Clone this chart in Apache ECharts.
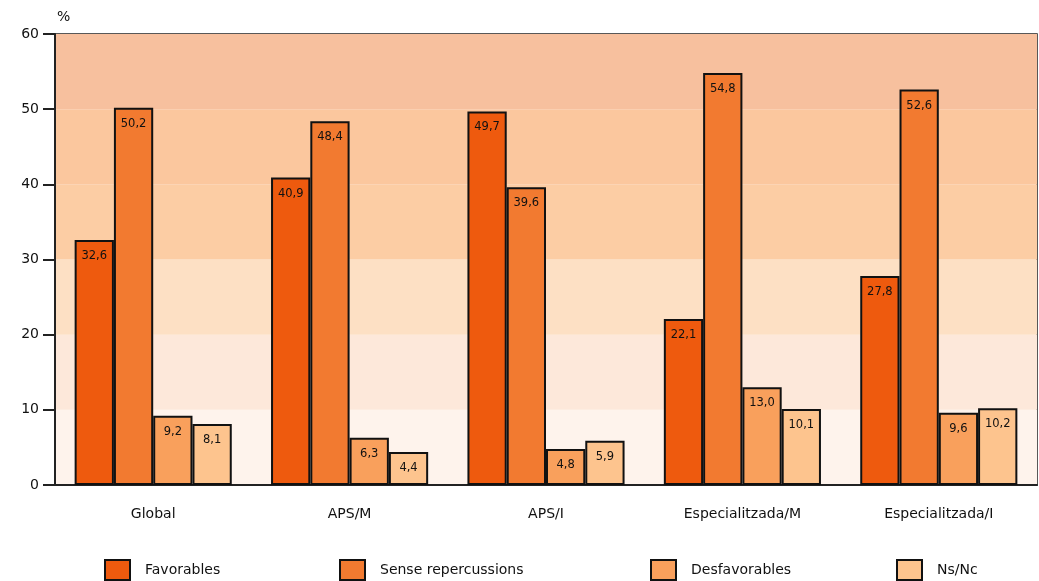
<!DOCTYPE html>
<html>
<head>
<meta charset="utf-8">
<script src="https://cdn.jsdelivr.net/npm/echarts@6/dist/echarts.min.js"></script>
<style>
  html, body { margin: 0; padding: 0; background: #ffffff; }
  #chart { width: 1039px; height: 581px; }
</style>
</head>
<body>
<div id="chart"></div>
<script>
// Àmbits de l'enquesta
const categories = ['Global', 'APS/M', 'APS/I', 'Especialitzada/M', 'Especialitzada/I'];

// Percentatges per tipus de resposta
const favorables = [32.6, 40.9, 49.7, 22.1, 27.8];
const senseRepercussions = [50.2, 48.4, 39.6, 54.8, 52.6];
const desfavorables = [9.2, 6.3, 4.8, 13.0, 9.6];
const nsNc = [8.1, 4.4, 5.9, 10.1, 10.2];

const seriesNames = ['Favorables', 'Sense repercussions', 'Desfavorables', 'Ns/Nc'];
const yTicks = [0, 10, 20, 30, 40, 50, 60];

const FONT = '"DejaVu Sans", "Liberation Sans", sans-serif';
const colors = ['#ee5a0e', '#f27a30', '#f9a05c', '#fdc48e'];
// Franges de fons, de baix a dalt
const bandColors = ['#fef3ec', '#fde8da', '#fde0c4', '#fccda4', '#fbc79e', '#f7c09e'];

const fmt = v => v.toFixed(1).replace('.', ',');

function barSeries(name, data, color) {
  return {
    name: name,
    type: 'bar',
    data: data,
    barGap: '0%',
    barCategoryGap: '20%',
    itemStyle: { color: color, borderColor: '#111', borderWidth: 2 },
    label: {
      show: true,
      position: 'insideTop',
      distance: 10,
      color: '#111',
      fontFamily: FONT,
      fontSize: 11.5,
      formatter: p => fmt(p.value)
    }
  };
}

const legendPos = [104, 339, 650, 896];
const legends = seriesNames.map((n, i) => ({
  data: [{ name: n, icon: 'rect' }],
  left: legendPos[i],
  top: 559,
  itemWidth: 25,
  itemHeight: 20,
  itemGap: 0,
  padding: 0,
  textStyle: { fontFamily: FONT, fontSize: 14, color: '#111', padding: [0, 0, 0, 10] },
  itemStyle: { borderColor: '#111', borderWidth: 2 },
  selectedMode: false
}));

const chart = echarts.init(document.getElementById('chart'), null, { renderer: 'canvas' });
chart.setOption({
  animation: false,
  color: colors,
  legend: legends,
  grid: { left: 55, right: 2, top: 34, bottom: 96, show: true, borderColor: '#222', borderWidth: 1.5, backgroundColor: 'transparent' },
  xAxis: {
    type: 'category',
    data: categories,
    axisLine: { lineStyle: { color: '#222', width: 2 } },
    axisTick: { show: false },
    axisLabel: { fontFamily: FONT, fontSize: 14, color: '#111', margin: 22 }
  },
  yAxis: {
    type: 'value',
    min: yTicks[0],
    max: yTicks[yTicks.length - 1],
    interval: 10,
    name: '%',
    nameLocation: 'end',
    nameGap: 10,
    nameTextStyle: { fontFamily: FONT, fontSize: 14, color: '#111', align: 'left', padding: [0, 0, 0, 2] },
    axisLine: { show: true, lineStyle: { color: '#222', width: 2 } },
    axisTick: { show: true, inside: false, length: 12, lineStyle: { color: '#222', width: 2 } },
    axisLabel: { fontFamily: FONT, fontSize: 14, color: '#111', margin: 16 },
    splitLine: { show: false },
    splitArea: { show: true, areaStyle: { color: bandColors } }
  },
  series: [
    barSeries(seriesNames[0], favorables, colors[0]),
    barSeries(seriesNames[1], senseRepercussions, colors[1]),
    barSeries(seriesNames[2], desfavorables, colors[2]),
    barSeries(seriesNames[3], nsNc, colors[3])
  ]
});
</script>
</body>
</html>
